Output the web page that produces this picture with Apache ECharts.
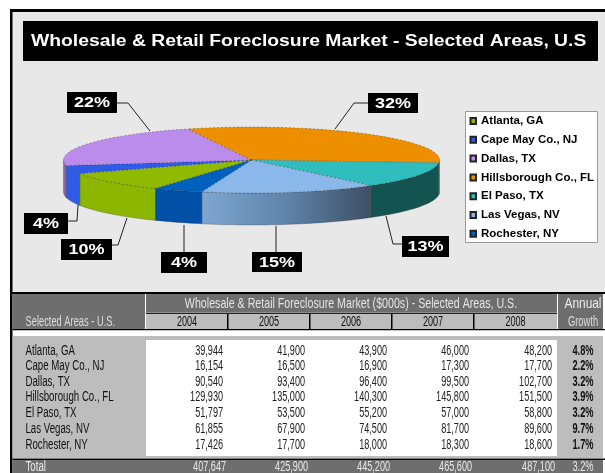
<!DOCTYPE html>
<html><head><meta charset="utf-8">
<style>html,body{margin:0;padding:0;background:#fff}#c{width:605px;height:473px}</style>
<script src="https://cdn.jsdelivr.net/npm/echarts@6/dist/echarts.min.js"></script>
</head><body><div id="c"></div>
<script>
// ---- data ----
const categories = ['Atlanta, GA','Cape May Co., NJ','Dallas, TX','Hillsborough Co., FL','El Paso, TX','Las Vegas, NV','Rochester, NY'];
const years = ['2004','2005','2006','2007','2008'];
const v2004 = [39944,16154,90540,129930,51797,61855,17426];
const v2005 = [41900,16500,93400,135000,53500,67900,17700];
const v2006 = [43900,16900,96400,140300,55200,74500,18000];
const v2007 = [46000,17300,99500,145800,57000,81700,18300];
const v2008 = [48200,17700,102700,151500,58800,89600,18600];
const growth = ['4.8%','2.2%','3.2%','3.9%','3.2%','9.7%','1.7%'];
const totals = ['407,647','425,900','445,200','465,600','487,100'];
const totalGrowth = '3.2%';
const title = 'Wholesale & Retail Foreclosure Market - Selected Areas, U.S';
const tableTitle = 'Wholesale & Retail Foreclosure Market ($000s) - Selected Areas, U.S.';

// ---- style & layout ----
const topColors = ['#8fba00','#2f5ce6','#bb8cec','#ee8f00','#2fbdbd','#8ab8ea','#0060bd'];
const sideColors = ['#8db600','#2f5ce6','#8a63b0','#b06a00','#145450',
  {type:'linear',x:0,y:0,x2:1,y2:0,colorStops:[{offset:0,color:'#7ea6d0'},{offset:.5,color:'#5f84aa'},{offset:1,color:'#3d4f66'}]},'#0050a8'];
const pie = {cx:251.5,cy:160,rx:188,ry:33,depth:32,start:210.7};
const labelBoxes = [[61,239,51,21],[24,213,44,21],[67,92,50,21],[368,93,50,20],[402,236,47,21],[252,252,50,20],[161,252,46,21]];
const leaders = [
 [[112,245],[118,245],[127,218]],
 [[68,221],[77,221],[78,205]],
 [[117,103],[128,103],[150,131]],
 [[368,103],[354,103],[335,129]],
 [[402,244],[393,244],[386,216]],
 [[276,252],[276,226]],
 [[184,252],[184,225]]
];
const colEdges = [146,228,310,392,474,557];
const rowY = [351,366.5,382,397.5,413,429,445];
const wide = '"Liberation Sans",Arial,sans-serif';

const rows = [v2004,v2005,v2006,v2007,v2008];
const total2004 = v2004.reduce((a,b)=>a+b,0);
const fmt = n => n.toLocaleString('en-US');

function pt(a,dy){const r=a*Math.PI/180;return [pie.cx+pie.rx*Math.sin(r),pie.cy-pie.ry*Math.cos(r)+(dy||0)];}
function sliceAngles(i){
  let s=pie.start; for(let k=0;k<i;k++) s+=v2004[k]/total2004*360;
  return [s,s+v2004[i]/total2004*360];
}
function arcPts(a,b,dy){const n=Math.max(2,Math.ceil(Math.abs(b-a)/2));const out=[];for(let k=0;k<=n;k++)out.push(pt(a+(b-a)*k/n,dy));return out;}
function renderSlice(i){
  const [a0,a1]=sliceAngles(i); const kids=[];
  for(const off of [0,360]){
    const s=Math.max(a0,90+off), e=Math.min(a1,270+off);
    if(e>s){
      const pts=arcPts(s,e,0).concat(arcPts(e,s,pie.depth));
      kids.push({type:'polygon',shape:{points:pts},style:{fill:sideColors[i],stroke:'rgba(40,40,40,.45)',lineWidth:.6}});
    }
  }
  kids.push({type:'polygon',z2:5,shape:{points:[[pie.cx,pie.cy]].concat(arcPts(a0,a1,0))},style:{fill:topColors[i],stroke:'rgba(40,40,40,.55)',lineWidth:.6,lineDash:[2,2]}});
  const pct=Math.round(v2004[i]/total2004*100)+'%';
  kids.push({type:'polyline',z2:6,shape:{points:leaders[i]},style:{stroke:'#222',lineWidth:1,fill:null}});
  const b=labelBoxes[i];
  kids.push({type:'rect',z2:7,shape:{x:b[0],y:b[1],width:b[2],height:b[3]},style:{fill:'#000'}});
  kids.push({type:'text',z2:8,x:b[0]+b[2]/2,y:b[1]+b[3]/2+.5,scaleX:1.2,style:{x:0,y:0,text:pct,fill:'#fff',font:'bold 15px '+wide,align:'center',verticalAlign:'middle'}});
  return {type:'group',children:kids};
}
const series = categories.map((name,i)=>({
  type:'custom',name,coordinateSystem:'none',color:topColors[i],
  itemStyle:{color:topColors[i],borderColor:'#222',borderWidth:.7},
  data:[v2004[i]],silent:true,animation:false,
  renderItem:()=>renderSlice(i)
}));

// ---- static frame & table ----
const g=[];
const rect=(x,y,w,h,fill,extra)=>g.push(Object.assign({type:'rect',silent:true,shape:{x,y,width:w,height:h},style:{fill}},extra||{}));
const text=(x,y,t,fill,font,align,sx)=>g.push({type:'text',silent:true,z:3,x,y,scaleX:sx||.66,style:{x:0,y:0,text:t,fill,font,align:align||'left',verticalAlign:'middle'}});
rect(10,9,595,464,'#000');
rect(12.5,12,592.5,280,'#e8e8e8');
rect(23,21,575,40,'#000');
text(31,41.5,title,'#fff','bold 16px '+wide,'left',1.208);
rect(465.5,111.5,132,131,'#fff',{style:{fill:'#fff',stroke:'#999',lineWidth:1}});

const DK='#6e6e6e', LT='#bdbdbd';
rect(12.5,294,592.5,179,'#fff');
rect(12.5,294,132.5,35,DK);
rect(146,294,411,18,DK);
rect(146,314,411,15,LT);
rect(146,312.5,411,1.5,'#222');
for(let k=1;k<colEdges.length-1;k++) rect(colEdges[k]-1,314,1.5,15,'#000');
rect(558,294,45,35,DK);
rect(12.5,329,592.5,1.3,'#000');
rect(12.5,336,590.5,122,LT);
rect(146,340,411,116,'#fff');
rect(12.5,458.5,592.5,1.5,'#000');
rect(12.5,460,590.5,13,DK);
const sz=t=>t+'px '+wide;
text(351,303.5,tableTitle,'#e4e4e4',sz(14.5),'center',.735);
text(25.5,322,'Selected Areas - U.S.','#dcdcdc',sz(14),'left',.665);
years.forEach((y,c)=>text((colEdges[c]+colEdges[c+1])/2,322,y,'#111',sz(14),'center',.65));
text(583,303.5,'Annual','#eee',sz(14.5),'center',.82);
text(583,322,'Growth','#ddd',sz(14),'center',.67);
categories.forEach((cat,r)=>{
  text(25.5,rowY[r],cat,'#111',sz(14),'left',.69);
  rows.forEach((col,c)=>text(colEdges[c+1]-5,rowY[r],fmt(col[r]),'#222',sz(14),'right',.65));
  text(583,rowY[r],growth[r],'#111','bold '+sz(14),'center',.66);
});
text(25.5,467.5,'Total','#e8e8e8',sz(14),'left',.69);
totals.forEach((t,c)=>text(colEdges[c+1]-2,467.5,t,'#e8e8e8',sz(14),'right',.65));
text(583,467.5,totalGrowth,'#e8e8e8',sz(14),'center',.66);

const chart=echarts.init(document.getElementById('c'),null,{renderer:'canvas'});
chart.setOption({
  animation:false,
  graphic:{elements:g},
  legend:{orient:'vertical',left:465,top:115,data:categories,itemWidth:5.5,itemHeight:6,itemGap:6.8,
    icon:'rect',padding:[0,0,0,4.5],selectedMode:false,
    textStyle:{color:'#000',fontFamily:wide,fontWeight:'bold',fontSize:11.5}},
  series
});
</script></body></html>
